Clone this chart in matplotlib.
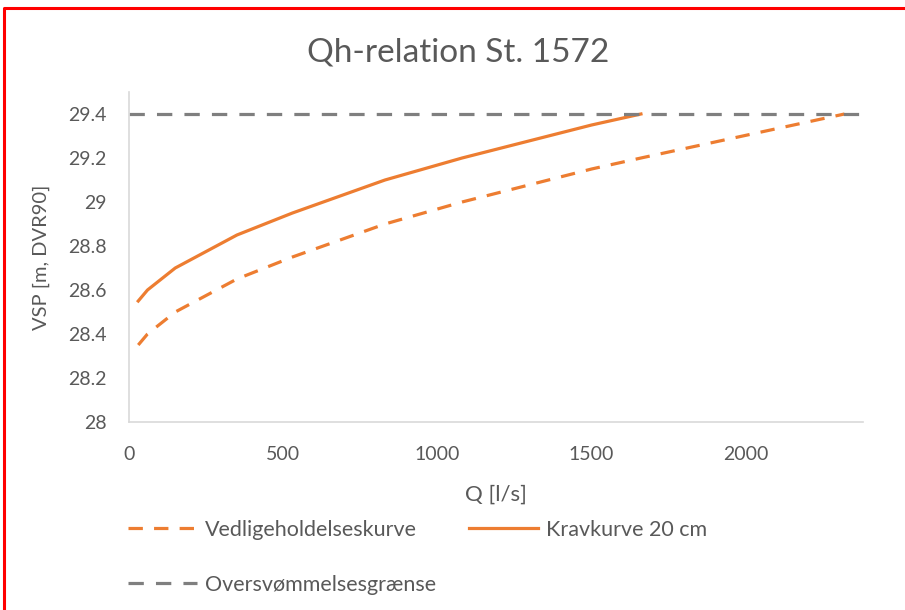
import matplotlib.pyplot as plt
from matplotlib.lines import Line2D

# Qh-relation data
q_vedl = [30, 60, 150, 350, 530, 830, 1080, 1500, 1660, 2320]
h_vedl = [28.35, 28.40, 28.50, 28.65, 28.75, 28.90, 29.00, 29.15, 29.20, 29.40]
q_krav = [30, 60, 150, 350, 530, 830, 1080, 1500, 1660]
h_krav = [28.55, 28.60, 28.70, 28.85, 28.95, 29.10, 29.20, 29.35, 29.40]
q_graense = [0, 2380]
h_graense = [29.4, 29.4]

x_ticks = [0, 500, 1000, 1500, 2000]
y_ticks = [28, 28.2, 28.4, 28.6, 28.8, 29, 29.2, 29.4]
y_ticklabels = ["28", "28.2", "28.4", "28.6", "28.8", "29", "29.2", "29.4"]

orange = "#ED7D31"
grey = "#7F7F7F"
txt = "#595959"
axcol = "#D9D9D9"

plt.rcParams["font.family"] = ["Lato", "DejaVu Sans"]

fig = plt.figure(figsize=(9.05, 6.10), dpi=100)
ax = fig.add_axes([129 / 905, 1 - 422 / 610, (863 - 129) / 905, 330 / 610])

l1, = ax.plot(q_vedl, h_vedl, color=orange, lw=2.3, dashes=(4.5, 3.5),
              label="Vedligeholdelseskurve")
l2, = ax.plot(q_krav, h_krav, color=orange, lw=2.3, label="Kravkurve 20 cm")
l3, = ax.plot(q_graense, h_graense, color=grey, lw=2.3, dashes=(4.8, 3.8),
              label="Oversvømmelsesgrænse")

ax.set_xlim(0, 2380)
ax.set_ylim(28, 29.5)
ax.set_xticks(x_ticks)
ax.set_yticks(y_ticks)
ax.set_yticklabels(y_ticklabels)
ax.tick_params(length=0, labelsize=14, colors=txt)
ax.tick_params(axis="y", pad=16)
ax.tick_params(axis="x", pad=17)
for s in ["top", "right"]:
    ax.spines[s].set_visible(False)
for s in ["left", "bottom"]:
    ax.spines[s].set_color(axcol)
    ax.spines[s].set_linewidth(1.2)

ax.set_xlabel("Q [l/s]", fontsize=16, color=txt, labelpad=16)
ax.set_ylabel("VSP [m, DVR90]", fontsize=14.5, color=txt, labelpad=13)
fig.text(458 / 905, 1 - 52 / 610, "Qh-relation St. 1572", fontsize=24,
         color=txt, ha="center", va="center")

# legend laid out like the Excel one: two columns, placed separately
leg_kw = dict(loc="upper left", frameon=False, fontsize=15.5, handlelength=3.2,
              handletextpad=0.37, labelspacing=1.62, borderpad=0, borderaxespad=0,
              labelcolor=txt)
fig.legend([l1, l3], [l1.get_label(), l3.get_label()],
           bbox_to_anchor=(128 / 905, 1 - 520 / 610), **leg_kw)
fig.legend([l2], [l2.get_label()],
           bbox_to_anchor=(469 / 905, 1 - 520 / 610), **leg_kw)

# red frame of the screenshot (top and left edges only)
fig.add_artist(Line2D([4 / 905, 4 / 905, 1], [0, 1 - 8 / 610, 1 - 8 / 610],
                      transform=fig.transFigure, color="red", lw=2.2))

fig.savefig("out.png", dpi=100)
